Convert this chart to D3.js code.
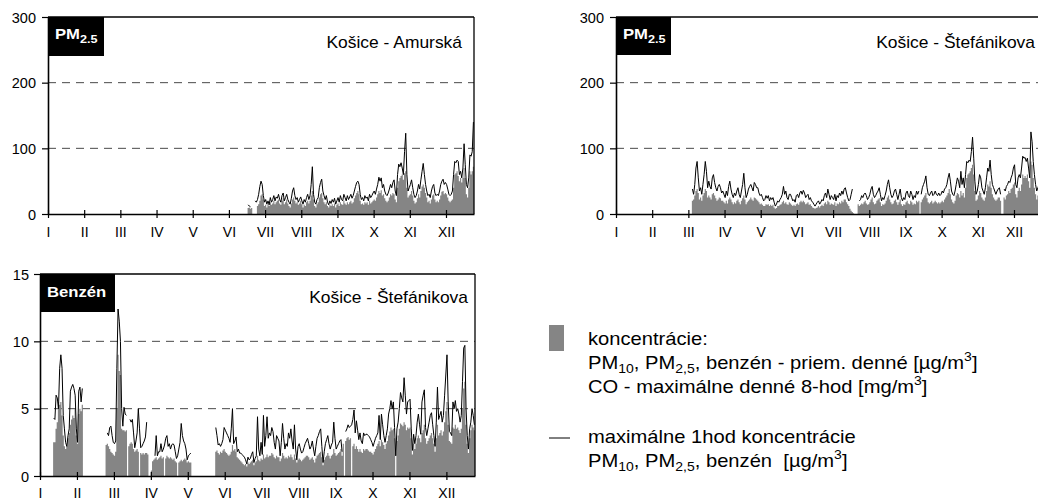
<!DOCTYPE html>
<html><head><meta charset="utf-8">
<script src="https://cdn.jsdelivr.net/npm/d3@7/dist/d3.min.js"></script>
<style>
body{margin:0;background:#fff;}
svg{display:block;}
text{font-family:"Liberation Sans", Arial, Helvetica, sans-serif; white-space:pre;}
</style>
</head><body>
<svg id="c" width="1038" height="502"></svg>
<script>
// ---------------- DATA ----------------
const monthLabels = ["I","II","III","IV","V","VI","VII","VIII","IX","X","XI","XII"];
const pmTicks = [0, 100, 200, 300];
const pmDashed = [100, 200];
const benzTicks = [0, 5, 10, 15];
const benzDashed = [5, 10];

// PM2.5 Košice - Amurská (day index 0 = 1 Jan)
const amurskaStart = 171;
const amurskaAvg = [9,10,8,9, null,null,null,null,
 12,15,20,28,30,22,12,14,10,15,
 12,18,14,16,20,15,18,20,22,16,
 14,20,24,15,18,22,16,12,10,16,
 22,25,20,16,18,14,16,20,15,10,
 14,12,18,20,16,20,28,35,22,12,
 10,15,18,25,30,32,24,18,15,18,
 12,10,14,12,15,12,16,10,14,16,
 12,18,15,14,20,16,14,18,15,18,
 20,16,18,24,28,32,35,30,20,15,
 16,14,18,16,18,14,20,16,18,20,
 22,20,25,30,35,32,36,28,30,24,
 20,18,20,25,30,28,32,30,22,18,
 40,50,55,58,60,52,62,65,40,25,
 28,30,35,28,20,16,18,24,30,25,
 35,42,45,40,32,25,18,20,16,22,
 28,30,22,18,20,18,22,28,34,35,
 30,32,30,25,20,18,20,22,40,60,
 62,65,58,50,55,48,55,70,55,30,
 25,40,65,60,65,72];
const amurskaMax = [14,12,11, null,null,null,
 20,18,22,30,42,50,45,28,18,22,
 15,20,14,25,18,22,28,20,26,24,
 30,22,18,28,32,20,25,30,22,18,
 15,24,35,40,28,22,25,18,22,26,
 20,15,22,18,25,30,22,28,45,72,
 30,18,15,22,25,40,48,53,35,28,
 22,28,18,14,20,16,22,18,24,15,
 20,25,18,28,22,20,30,25,20,28,
 22,26,30,24,28,35,42,48,50,45,
 30,22,25,20,28,24,26,20,30,25,
 28,32,35,30,38,45,56,50,55,40,
 45,35,30,28,32,38,45,40,48,52,
 35,28,60,76,72,78,70,60,95,123,
 60,35,40,45,52,40,30,25,28,35,
 45,38,52,65,77,60,45,35,28,30,
 25,35,42,45,32,28,30,28,35,45,
 50,53,45,48,45,38,30,28,30,35,
 60,80,78,82,80,60,65,55,70,107,
 75,45,40,55,90,88,95,140];

// PM2.5 Košice - Štefánikova
const stefPmStart = 65;
const stefPmAvg = [
 20,22,28,35,38,32,22,25,20,28,
 32,38,35,25,28,25,22,30,32,28,
 24,20,22,25,24,20,20,18,16,20,
 16,22,25,22,18,15,18,16,20,22,
 18,15,20,24,28,22,15,18,20,22,
 25,22,20,25,24,22,20,18,15,16,
 14,12,12,15,14,15,12,14,12,14,
 10,8,9,12,12,14,15,18,20,16,
 18,15,14,18,16,14,12,14,12,15,
 16,14,18,20,18,20,18,15,16,18,
 14,15,12,10,9,8,9,10,12,10,
 12,14,12,16,18,15,20,18,14,16,
 15,14,18,12,16,15,18,16,20,18,
 22,22,18,15,12,8,5,3,1,null,
 null,null,15,12,14,16,15,18,20,16,
 14,15,18,22,25,18,15,16,20,22,
 24,18,12,15,14,16,20,25,28,22,
 18,15,16,20,22,18,14,18,22,15,
 12,15,14,18,20,16,15,20,18,14,
 16,15,20,18,20,null,18,22,25,28,
 32,24,18,16,18,20,16,18,20,18,
 16,18,16,18,20,18,22,25,28,32,
 38,30,22,18,16,20,28,32,30,25,
 35,28,32,25,40,55,60,62,65,70,
 75,60,35,20,22,28,35,32,25,22,
 20,25,35,45,42,50,40,30,25,22,
 20,22,25,25,20,null,null,25,22,28,
 30,35,32,38,40,45,48,30,25,35,
 40,35,45,60,55,58,55,60,50,40,
 80,75,55,40,30,22,28,30,25,35];
const stefPmMax = [
 38,30,45,70,80,55,35,40,30,45,
 60,80,65,40,50,42,38,55,60,48,
 40,35,42,45,40,32,35,30,25,35,
 28,42,50,38,30,25,32,28,35,40,
 30,25,35,45,62,40,25,30,38,42,
 45,40,35,48,45,40,40,32,28,30,
 25,20,22,28,24,28,20,25,22,25,
 18,12,15,20,18,22,25,30,42,30,
 35,25,22,30,30,25,20,22,18,28,
 30,25,32,35,30,36,32,25,28,30,
 22,25,20,18,15,12,15,18,20,15,
 18,22,20,28,32,25,38,30,22,28,
 25,22,30,20,28,25,32,28,35,30,
 38,40,32,25,20,22,30,38,null,null,
 null,null,null,20,22,28,25,30,32,28,
 22,25,30,38,42,30,25,28,32,35,
 40,30,20,25,22,28,35,45,52,40,
 30,25,28,35,38,30,22,30,38,25,
 20,25,22,32,35,28,25,35,30,22,
 28,25,35,30,35,null,30,40,45,50,
 58,40,30,28,32,35,28,30,35,30,
 28,32,28,30,35,32,38,40,45,55,
 62,50,35,30,28,35,45,55,50,40,
 65,45,55,40,60,80,78,82,80,95,
 117,85,50,30,35,45,60,55,40,35,
 30,40,55,70,65,82,60,45,40,35,
 30,35,38,40,30,null,null,38,35,42,
 45,50,48,55,60,70,75,45,40,55,
 60,55,70,88,85,86,80,85,70,55,
 125,110,80,60,45,35,40,45,38,50];

// Benzén Košice - Štefánikova (measured segments)
const benzSeg1Start = 11;
const benzSeg1Avg = [2.5,2.5,3.5,4.0,5.5,5.3,5.5,4.5,3.0,2.2,2.0,2.2,2.8,3.2,3.8,4.2,4.5,4.3,5.0,3.0,2.4,4.6,5.0,4.8,5.3];
const benzSeg1Max = [4.3,4.2,6.0,5.8,5.0,8.0,9.0,8.0,4.5,3.5,2.5,2.2,3.0,3.5,6.3,6.6,6.8,6.5,6.0,3.5,2.5,6.3,6.6,5.5,6.5];
const benzSeg2Start = 55;
const benzSeg2Avg = [2.3,2.4,2.2,2.0,1.8,1.7,1.6,1.5,1.8,5.0,9.0,7.8,7.5,3.5,3.4,3.4,3.3,3.4,null,2.2,2.4,2.5,2.4,2.0,1.8,1.9,2.0,1.8,null,1.7,1.6,1.7,1.6,1.7,1.7,1.6];
const benzSeg2Max = [null,3.2,3.0,3.6,3.7,3.0,2.5,2.4,2.6,8.0,12.4,11.5,10.0,5.0,3.7,5.1,4.6,4.5,null,null,4.2,4.0,4.2,3.2,2.1,2.6,3.2,5.0,3.5,2.1,2.2,2.4,2.6,2.9,4.0,null];
const benzSeg3Start = 93;
const benzSeg3Avg = [0.4,1.1,1.2,1.3,1.4,1.2,1.3,1.4,1.5,1.3,1.4,null,1.3,1.5,1.4,1.3,1.4,1.3,1.2,1.3,1.1,1.0,null,1.0,1.1,1.2,1.1,1.2,1.3,1.2,1.0,1.1,1.0,1.0,null];
const benzSeg3Max = [null,null,null,1.5,3.0,1.5,1.8,1.8,2.4,1.8,2.0,2.3,2.8,3.0,2.2,2.4,2.0,2.3,2.4,2.3,1.8,1.3,1.5,2.0,2.5,3.9,3.0,2.6,2.4,2.0,1.2,1.5,1.6,1.7,null];
const benzSeg4Start = 147;
const benzSeg4Avg = [
 1.8,1.9,1.7,1.6,1.8,1.7,1.9,2.0,1.8,1.7,
 1.6,1.5,1.6,1.8,2.3,1.9,2.0,1.8,1.4,1.3,
 1.2,1.1,1.0,0.9,0.8,0.9,0.7,1.0,0.9,1.0,
 1.1,1.2,0.8,1.0,1.1,1.5,1.2,1.1,1.3,1.2,
 1.6,1.3,1.4,1.6,1.4,1.5,1.5,1.7,1.6,1.4,
 1.3,1.5,1.4,1.4,1.1,1.3,1.7,1.5,1.3,1.4,
 1.3,1.5,1.4,1.6,1.4,1.2,1.6,1.3,1.0,1.2,
 1.3,1.2,1.1,1.2,1.3,1.4,1.5,1.5,1.4,1.2,
 1.3,1.4,1.2,1.0,1.3,1.5,1.6,1.7,1.8,1.4,
 0.8,1.2,1.4,1.5,1.7,1.5,1.3,1.5,1.6,2.0,
 1.7,1.5,1.6,1.7,1.8,2.0,1.5,2.4,null,2.6,
 2.8,2.9,2.7,2.8,null,2.2,2.4,2.0,2.2,2.0,
 1.8,2.0,1.8,1.7,2.0,1.9,2.0,2.0,1.9,1.8,
 1.8,1.7,1.6,1.8,2.0,2.2,2.4,2.6,2.2,2.7,
 2.5,2.3,2.0,2.4,2.6,3.0,3.3,3.6,3.4,3.5,
 2.8,null,2.6,3.0,3.5,3.9,3.8,3.7,4.0,3.8,
 3.4,3.6,3.5,3.6,2.8,1.6,2.4,2.0,2.4,2.8,
 3.0,2.8,2.5,3.2,3.4,3.8,2.8,2.4,2.6,2.8,
 3.0,3.2,2.8,2.4,1.8,2.8,3.8,3.0,3.2,3.4,
 3.0,3.3,4.0,4.8,5.5,3.8,2.6,2.5,2.4,3.6,
 3.5,3.8,3.5,3.6,3.4,3.2,3.5,5.0,6.5,7.0,
 3.8,2.4,1.7,2.8,3.4,3.8,3.6,3.4];
const benzSeg4Max = [
 3.6,3.0,2.3,2.4,2.2,2.4,2.7,3.6,3.4,3.2,
 3.0,2.8,2.5,3.5,5.0,2.4,2.6,2.9,1.8,2.0,
 1.7,1.7,1.6,1.5,1.4,1.2,0.9,1.4,1.2,1.3,
 1.6,1.8,1.0,1.3,1.5,4.4,2.0,1.5,2.5,1.6,
 4.5,2.2,3.0,4.4,2.8,3.2,3.0,3.6,3.3,2.5,
 2.0,3.0,2.8,2.6,1.5,2.5,3.9,2.8,2.0,2.4,
 2.2,3.2,2.8,3.5,2.6,2.0,3.8,2.0,1.2,2.2,
 2.4,2.0,1.7,1.8,2.1,2.4,2.6,2.8,2.4,2.0,
 2.2,2.6,2.0,1.5,2.2,2.8,3.0,3.3,3.5,2.2,
 1.0,1.8,2.4,2.7,3.0,2.4,2.0,2.3,2.5,4.0,
 2.8,2.0,2.2,2.4,2.6,2.7,1.8,null,null,3.3,
 3.5,3.8,3.6,3.7,3.8,4.2,4.9,3.2,4.1,3.4,
 2.7,3.2,2.6,2.4,3.2,3.0,3.1,3.1,3.0,2.9,
 2.7,2.5,2.2,2.5,2.8,3.0,3.2,4.5,2.7,4.6,
 3.8,3.0,2.5,3.0,3.5,4.6,5.0,5.6,5.0,5.5,
 3.6,1.5,3.5,4.0,5.0,6.2,5.8,5.5,7.3,6.0,
 4.6,5.5,5.6,5.7,3.5,1.9,3.1,2.4,3.0,4.0,
 4.6,3.8,3.1,5.5,6.0,6.4,3.6,3.0,3.5,4.0,
 4.5,4.7,3.8,3.0,2.2,4.0,6.6,4.2,4.5,4.8,
 4.0,4.5,6.0,7.5,9.0,5.5,3.3,3.2,3.0,5.5,
 5.0,5.6,4.8,5.0,4.6,4.0,4.5,7.0,9.5,9.7,
 5.0,3.0,2.0,3.5,4.0,5.0,4.5,3.8];

// ---------------- HELPERS ----------------
const FONT = '"Liberation Sans", Arial, Helvetica, sans-serif';
const monthStarts = d3.range(12).map(i => i * 31);
function daily(segments){
  const a = new Array(365).fill(null);
  segments.forEach(([s, arr]) => arr.forEach((v, i) => { if (s + i < 365) a[s + i] = v; }));
  return a;
}
const svg = d3.select("#c");

function stext(g, x, y, size, sx, anchor, weight, fill){
  return g.append("text")
    .attr("transform", `translate(${x},${y}) scale(${sx},1)`)
    .attr("text-anchor", anchor || "start")
    .style("font-size", size + "px")
    .style("font-weight", weight || "normal")
    .attr("fill", fill || "#000");
}

function drawPanel(cfg){
  const g = svg.append("g");
  const x = d3.scaleLinear().domain([0, 365]).range([cfg.left, cfg.left + cfg.width]);
  const y = d3.scaleLinear().domain([0, cfg.yMax]).range([cfg.top + cfg.height, cfg.top]);

  g.selectAll("line.grid").data(cfg.dashed).join("line").attr("class", "grid")
    .attr("x1", cfg.left).attr("x2", cfg.left + cfg.width)
    .attr("y1", d => y(d)).attr("y2", d => y(d))
    .attr("stroke", "#4a4a4a").attr("stroke-width", 1).attr("stroke-dasharray", "8,6");

  const pts = [];
  cfg.avg.forEach((v, d) => {
    if (v == null) pts.push({x: d, v: null});
    else { pts.push({x: d, v}); pts.push({x: d + 1, v}); }
  });
  g.append("path").datum(pts).attr("fill", "#858585")
    .attr("d", d3.area().defined(p => p.v != null).x(p => x(p.x)).y0(y(0)).y1(p => y(p.v)));

  const lp = cfg.max.map((v, d) => ({x: d + 0.5, v}));
  g.append("path").datum(lp).attr("fill", "none").attr("stroke", "#000")
    .attr("stroke-width", 1).attr("stroke-linejoin", "round")
    .attr("d", d3.line().defined(p => p.v != null).x(p => x(p.x)).y(p => y(p.v)));

  // frame
  g.append("line").attr("x1", cfg.left).attr("x2", cfg.left + cfg.width)
    .attr("y1", y(cfg.yMax)).attr("y2", y(cfg.yMax)).attr("stroke", "#000").attr("stroke-width", 1.3);
  if (cfg.rightBorder) {
    g.append("line").attr("x1", cfg.left + cfg.width).attr("x2", cfg.left + cfg.width)
      .attr("y1", y(cfg.yMax)).attr("y2", y(0)).attr("stroke", "#000").attr("stroke-width", 1.3);
  }

  // x axis
  const xa = g.append("g").attr("transform", `translate(0,${y(0)})`)
    .call(d3.axisBottom(x).tickValues(monthStarts).tickFormat((d, i) => monthLabels[i]).tickSize(4).tickSizeOuter(0));
  xa.attr("font-family", FONT).attr("font-size", 14);
  xa.select(".domain").attr("stroke", "#000").attr("stroke-width", 1.6);
  xa.selectAll(".tick line").attr("y1", -4).attr("y2", 4).attr("stroke", "#000").attr("stroke-width", 1.2);
  xa.selectAll(".tick text").attr("y", cfg.xLabelDy).attr("dy", 0).attr("fill", "#000").style("font-size", "14px");

  // y axis
  const ya = g.append("g").attr("transform", `translate(${cfg.left},0)`)
    .call(d3.axisLeft(y).tickValues(cfg.yTicks).tickSize(6).tickSizeOuter(0));
  ya.attr("font-family", FONT).attr("font-size", 14);
  ya.select(".domain").attr("stroke", "#000").attr("stroke-width", 1.6);
  ya.selectAll(".tick line").attr("stroke", "#000").attr("stroke-width", 1.2);
  ya.selectAll(".tick text").attr("x", -cfg.yLabelGap).attr("dy", "0.36em").attr("fill", "#000").style("font-size", "14.5px");

  // label box
  g.append("rect").attr("x", cfg.left).attr("y", cfg.top).attr("width", cfg.boxW).attr("height", cfg.boxH).attr("fill", "#000");
  const t = stext(g, cfg.left + 7, cfg.top + cfg.boxBase, 14.5, 1.15, "start", "bold", "#fff");
  t.append("tspan").text(cfg.boxText);
  if (cfg.boxSub) t.append("tspan").attr("dy", 4).style("font-size", "11px").text(cfg.boxSub);

  stext(g, cfg.left + cfg.width - cfg.stationInset, cfg.top + cfg.stationBase, 16, 1.09, "end").text(cfg.station);
}

drawPanel({left: 48, top: 17, width: 426, height: 197, yMax: 300, yTicks: pmTicks, dashed: pmDashed,
  avg: daily([[amurskaStart, amurskaAvg]]), max: daily([[amurskaStart, amurskaMax]]),
  rightBorder: true, xLabelDy: 23, yLabelGap: 12,
  boxW: 56, boxH: 39, boxBase: 22, boxText: "PM", boxSub: "2.5",
  station: "Košice - Amurská", stationInset: 12, stationBase: 31});

drawPanel({left: 616, top: 17, width: 426, height: 197, yMax: 300, yTicks: pmTicks, dashed: pmDashed,
  avg: daily([[stefPmStart, stefPmAvg]]), max: daily([[stefPmStart, stefPmMax]]),
  rightBorder: true, xLabelDy: 23, yLabelGap: 12,
  boxW: 55, boxH: 38, boxBase: 22, boxText: "PM", boxSub: "2.5",
  station: "Košice - Štefánikova", stationInset: 7, stationBase: 31});

drawPanel({left: 40, top: 274, width: 435, height: 202, yMax: 15, yTicks: benzTicks, dashed: benzDashed,
  avg: daily([[benzSeg1Start, benzSeg1Avg],[benzSeg2Start, benzSeg2Avg],[benzSeg3Start, benzSeg3Avg],[benzSeg4Start, benzSeg4Avg]]),
  max: daily([[benzSeg1Start, benzSeg1Max],[benzSeg2Start, benzSeg2Max],[benzSeg3Start, benzSeg3Max],[benzSeg4Start, benzSeg4Max]]),
  rightBorder: true, xLabelDy: 22, yLabelGap: 11,
  boxW: 75, boxH: 38, boxBase: 23, boxText: "Benzén", boxSub: null,
  station: "Košice - Štefánikova", stationInset: 7, stationBase: 29});

// ---------------- LEGEND ----------------
const lg = svg.append("g");
lg.append("rect").attr("x", 549).attr("y", 325).attr("width", 15).attr("height", 26).attr("fill", "#858585");
lg.append("line").attr("x1", 549).attr("x2", 570).attr("y1", 438).attr("y2", 438).attr("stroke", "#000").attr("stroke-width", 1);

// each part: [text, baseline offset, font size]; offsets are absolute relative to the line baseline
function richLine(y, parts){
  const t = stext(lg, 588, y, 18, 1.12, "start");
  let cur = 0;
  parts.forEach(p => {
    const str = typeof p === "string" ? p : (p.sub || p.sup);
    const off = typeof p === "string" ? 0 : (p.sub ? 4 : -8);
    const ts = t.append("tspan").attr("dy", off - cur).text(str);
    if (typeof p !== "string") ts.style("font-size", "12.5px");
    cur = off;
  });
}
richLine(345, ["koncentrácie:"]);
richLine(369, ["PM", {sub: "10"}, ", PM", {sub: "2,5"}, ", benzén - priem. denné [µg/m", {sup: "3"}, "]"]);
richLine(393, ["CO - maximálne denné 8-hod [mg/m", {sup: "3"}, "]"]);
richLine(443, ["maximálne 1hod koncentrácie"]);
richLine(467, ["PM", {sub: "10"}, ", PM", {sub: "2,5"}, ", benzén  [µg/m", {sup: "3"}, "]"]);
</script>
</body></html>
